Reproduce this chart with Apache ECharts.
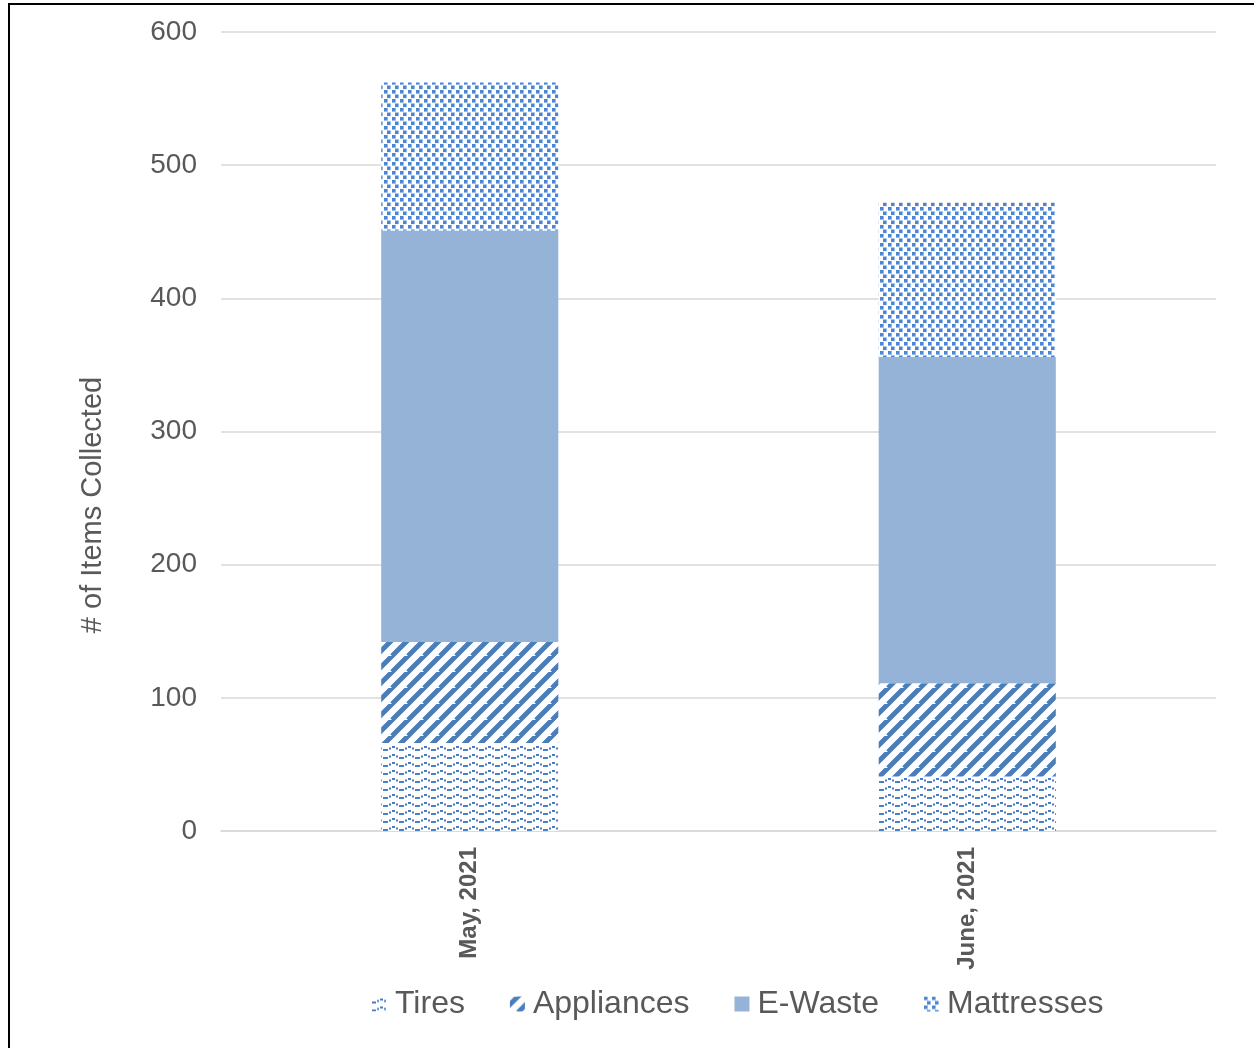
<!DOCTYPE html>
<html>
<head>
<meta charset="utf-8">
<script src="https://cdn.jsdelivr.net/npm/echarts@6/dist/echarts.min.js"></script>
<style>
html,body{margin:0;padding:0;overflow:hidden;background:#fff;}
#frame{position:absolute;left:8px;top:3px;width:1270px;height:1070px;border:2px solid #000;box-sizing:border-box;}
#chart{position:absolute;left:0;top:0;width:1254px;height:1048px;}
</style>
</head>
<body>
<div id="frame"></div>
<div id="chart"></div>
<script>
var categories = ['May, 2021', 'June, 2021'];
var seriesNames = ['Tires', 'Appliances', 'E-Waste', 'Mattresses'];
var tires = [66, 41];
var appliances = [76, 70];
var eWaste = [309, 245];
var mattresses = [111, 116];
var yTicks = [0, 100, 200, 300, 400, 500, 600];
var yAxisTitle = '# of Items Collected';

function makeCanvas(w, h, draw) {
  var c = document.createElement('canvas');
  c.width = w; c.height = h;
  var ctx = c.getContext('2d');
  ctx.fillStyle = '#ffffff';
  ctx.fillRect(0, 0, w, h);
  draw(ctx);
  return c;
}
var tiresPat = makeCanvas(16, 8, function (ctx) {
  ctx.fillStyle = '#4a7ec4';
  ctx.fillRect(0, 5, 4, 2);
  ctx.fillRect(5, 3.5, 2, 2);
  ctx.fillRect(8, 2, 3, 2);
  ctx.fillRect(12, 3.5, 2, 2);
  ctx.fillRect(15, 5, 1, 2);
});
var applPat = makeCanvas(16, 16, function (ctx) {
  ctx.strokeStyle = '#4a7ebb';
  ctx.lineWidth = 5;
  ctx.beginPath();
  [-16, 0, 16, 32].forEach(function (o) {
    ctx.moveTo(o - 8, 16);
    ctx.lineTo(o + 16, -8);
  });
  ctx.stroke();
});
var mattPat = makeCanvas(8, 9, function (ctx) {
  ctx.fillStyle = '#4b86d4';
  ctx.fillRect(0, 0, 3.6, 3.6);
  ctx.fillRect(3, 4.5, 3.6, 3.6);
});

var colors = [
  {image: tiresPat, repeat: 'repeat'},
  {image: applPat, repeat: 'repeat'},
  '#95b3d7',
  {image: mattPat, repeat: 'repeat'}
];
var values = [tires, appliances, eWaste, mattresses];

var chart = echarts.init(document.getElementById('chart'));
chart.setOption({
  animation: false,
  backgroundColor: 'transparent',
  grid: {left: 221, right: 38, top: 32, bottom: 217, containLabel: false},
  graphic: [{
    type: 'text',
    x: 93, y: 505,
    rotation: Math.PI / 2,
    style: {
      text: yAxisTitle,
      fontFamily: 'Liberation Sans', fontSize: 29, fill: '#595959',
      align: 'center', verticalAlign: 'middle'
    }
  }],
  legend: {
    data: seriesNames,
    left: 367,
    top: 983,
    itemWidth: 15,
    itemHeight: 15,
    itemGap: 45,
    icon: 'rect',
    textStyle: {fontFamily: 'Liberation Sans', fontSize: 32, color: '#595959', padding: [0, 0, 0, 3]}
  },
  xAxis: {
    type: 'category',
    data: categories,
    axisLine: {lineStyle: {color: '#d9d9d9', width: 1.5}},
    axisTick: {show: false},
    axisLabel: {rotate: 90, margin: 16, fontFamily: 'Liberation Sans', fontSize: 24, fontWeight: 'bold', color: '#595959'}
  },
  yAxis: {
    type: 'value',
    min: 0, max: 600, interval: 100,
    axisLine: {show: false},
    axisTick: {show: false},
    splitLine: {lineStyle: {color: '#d9d9d9', width: 1.5}},
    axisLabel: {
      margin: 24, fontFamily: 'Liberation Sans', fontSize: 28, color: '#595959',
      padding: [4, 0, 0, 0],
      formatter: function (v) { return yTicks.indexOf(v) >= 0 ? String(v) : ''; }
    }
  },
  series: seriesNames.map(function (n, i) {
    return {
      name: n,
      type: 'bar',
      stack: 'total',
      barWidth: '35.6%',
      data: values[i],
      itemStyle: {color: colors[i]},
      emphasis: {disabled: true}
    };
  })
});
</script>
</body>
</html>
